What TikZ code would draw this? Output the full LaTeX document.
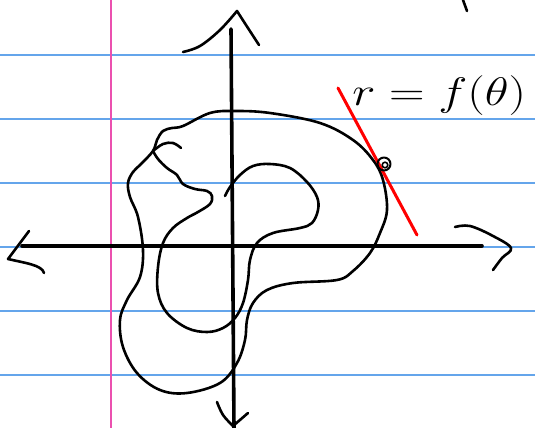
\documentclass[tikz,border=0pt]{standalone}
\begin{document}
\begin{tikzpicture}[x=1pt,y=-1pt,
  rule/.style={draw={rgb,255:red,100;green,165;blue,235},line width=1.3pt},
  margin/.style={draw={rgb,255:red,235;green,80;blue,175},line width=1.8pt},
  ink/.style={draw=black,line width=2.6pt,line cap=round,line join=round},
  axis/.style={draw=black,line width=3.6pt,line cap=round},
  redline/.style={draw=red,line width=3pt,line cap=round}]
\useasboundingbox (0,0) rectangle (535,428);
\fill[white] (0,0) rectangle (535,428);
% ruled lines
\foreach \yy in {55,119,183,247,311,375} \draw[rule] (0,\yy) -- (535,\yy);
\draw[margin] (111,0) -- (111,428);
% axes
\draw[axis] (22,246) -- (482,246);
\draw[axis] (231,29) -- (234,428);
% arrow heads (hand drawn)
\draw[ink] plot[smooth,tension=0.6] coordinates {(183,52) (200,46) (220,30) (237,11)} -- (246,25) -- (259,45);
\draw[ink] (29,231) -- (8,259) .. controls (25,263) and (42,265) .. (44,273);
\draw[ink] plot[smooth,tension=0.6] coordinates {(455,227) (470,226) (493,236) (511,248) (502,258) (493,270)};
\draw[ink] plot[smooth,tension=0.6] coordinates {(217,402) (223,415) (233,426)} -- (248,413);
% outer curve
\draw[ink] plot[smooth cycle,tension=0.6] coordinates {
 (153,151) (157,140) (163,131) (172,128) (183,126) (210,113) (235,111) (270,113)
 (320,123) (353,140) (373,160) (383,180) (387,210) (380,233) (370,253) (353,271)
 (337,280) (293,283) (267,290) (253,303) (247,320) (245,340) (237,363) (220,383)
 (187,393) (160,390) (137,373) (123,347) (120,320) (127,300) (140,277) (143,250)
 (138,217) (130,197) (128,183) (133,172) (141,164)};
% inner curve
\draw[ink] plot[smooth,tension=0.6] coordinates {
 (153,151) (158,159) (167,168) (177,175) (183,184) (195,189) (207,191) (212,196)
 (210,204) (198,212) (187,218) (173,228) (163,243) (158,267) (158,293) (167,313)
 (187,328) (207,332) (223,328) (235,318) (243,303) (248,280) (250,260) (257,243)
 (273,233) (300,228) (312,223) (318,210) (317,197) (307,182) (290,168) (270,164)
 (253,166) (240,175) (230,187) (225,196)};
% hook
\draw[ink] plot[smooth,tension=0.6] coordinates {(153,151) (163,144) (173,143) (181,148)};
% tangent line and point
\draw[redline] (338,88) -- (417,235);
\draw[ink,line width=2pt] (384,164) circle (6.5);
\draw[ink,line width=1.6pt] (385,165) circle (2.8);
% stray stroke at top
\draw[ink] (463,0) -- (467,11);
% label
\node[anchor=base west,inner sep=0pt,xscale=1.98,yscale=1.6] (lbl) at (352,105) {\Huge $r = f(\theta)$};
\end{tikzpicture}
\end{document}
